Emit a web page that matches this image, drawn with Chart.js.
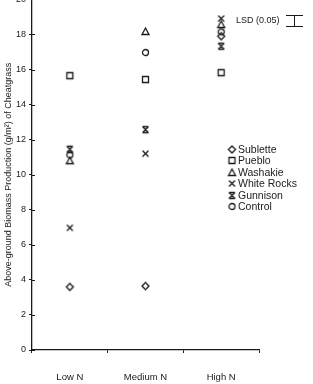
<!DOCTYPE html>
<html>
<head>
<meta charset="utf-8">
<script src="https://cdn.jsdelivr.net/npm/chart.js@4/dist/chart.umd.min.js"></script>
<style>
  html, body { margin: 0; padding: 0; background: #fff; overflow: hidden; }
  #wrap { position: absolute; left: 0; top: -9px; width: 313px; height: 393px; }
</style>
</head>
<body>
<div id="wrap"><canvas id="c" width="313" height="393"></canvas></div>
<script>
// ---- data ----
const categories = ['Low N', 'Medium N', 'High N'];
const sublette   = [3.6, 3.65, 17.9];
const pueblo     = [15.65, 15.43, 15.82];
const washakie   = [10.8, 18.17, 18.57];
const whiteRocks = [6.97, 11.2, 18.91];
const gunnison   = [11.45, 12.57, 17.33];
const control    = [11.13, 16.97, 18.15];
const yTicks = [0, 2, 4, 6, 8, 10, 12, 14, 16, 18, 20];
const lsdLabel = 'LSD (0.05)';
const lsdValue = 0.6;
const lsdCenter = 18.8;
const yTitle = 'Above-ground Biomass Production (g/m\u00B2) of Cheatgrass';

const INK = '#1a1a1a';
const FAMILY = '"Liberation Sans", Arial, sans-serif';

function makeMarker(kind) {
  const c = document.createElement('canvas');
  c.width = 11; c.height = 11;
  const g = c.getContext('2d');
  g.strokeStyle = INK; g.lineWidth = 1.3; g.lineJoin = 'miter';
  g.beginPath();
  if (kind === 'diamond') {
    g.moveTo(5.5, 2); g.lineTo(9, 5.5); g.lineTo(5.5, 9); g.lineTo(2, 5.5); g.closePath();
  } else if (kind === 'square') {
    g.rect(2.5, 2.5, 6, 6);
  } else if (kind === 'triangle') {
    g.moveTo(5.5, 2); g.lineTo(9, 8.5); g.lineTo(2, 8.5); g.closePath();
  } else if (kind === 'x') {
    g.moveTo(2.5, 2.5); g.lineTo(8.5, 8.5); g.moveTo(8.5, 2.5); g.lineTo(2.5, 8.5);
  } else if (kind === 'gunnison') {
    g.moveTo(2.5, 2.5); g.lineTo(8.5, 8.5); g.moveTo(8.5, 2.5); g.lineTo(2.5, 8.5);
    g.moveTo(2.5, 2.5); g.lineTo(8.5, 2.5); g.moveTo(2.5, 8.5); g.lineTo(8.5, 8.5);
  } else if (kind === 'circle') {
    g.arc(5.5, 5.5, 3, 0, Math.PI * 2);
  }
  g.stroke();
  return c;
}

const series = [
  { label: 'Sublette',    data: sublette,   marker: 'diamond' },
  { label: 'Pueblo',      data: pueblo,     marker: 'square' },
  { label: 'Washakie',    data: washakie,   marker: 'triangle' },
  { label: 'White Rocks', data: whiteRocks, marker: 'x' },
  { label: 'Gunnison',    data: gunnison,   marker: 'gunnison' },
  { label: 'Control',     data: control,    marker: 'circle' }
];

const datasets = series.map(s => ({
  label: s.label,
  data: s.data,
  showLine: false,
  pointStyle: makeMarker(s.marker),
  pointRadius: 5,
  borderColor: INK,
  backgroundColor: INK
}));

const extras = {
  id: 'extras',
  afterDraw(chart) {
    const ctx = chart.ctx;
    const ca = chart.chartArea;
    const y = chart.scales.y;
    ctx.save();
    // inside half of y ticks (ticks cross the axis)
    ctx.strokeStyle = INK; ctx.lineWidth = 1;
    y.ticks.forEach(t => {
      const py = Math.round(y.getPixelForValue(t.value)) + 0.5;
      ctx.beginPath(); ctx.moveTo(ca.left, py); ctx.lineTo(ca.left + 3, py); ctx.stroke();
    });
    // LSD bar
    ctx.font = '9px ' + FAMILY; ctx.fillStyle = INK; ctx.textBaseline = 'middle'; ctx.textAlign = 'left';
    const yc = y.getPixelForValue(lsdCenter);
    ctx.fillText(lsdLabel, ca.right - 23, yc);
    const y1 = Math.round(y.getPixelForValue(lsdCenter + lsdValue / 2)) + 0.5;
    const y2 = Math.round(y.getPixelForValue(lsdCenter - lsdValue / 2)) + 0.5;
    const bx = ca.right + 35.5;
    ctx.beginPath();
    ctx.moveTo(bx, y1); ctx.lineTo(bx, y2);
    ctx.moveTo(bx - 8.5, y1); ctx.lineTo(bx + 8.5, y1);
    ctx.moveTo(bx - 8.5, y2); ctx.lineTo(bx + 8.5, y2);
    ctx.stroke();
    // legend
    ctx.font = '10.5px ' + FAMILY;
    let ly = ca.top + 150;
    chart.data.datasets.forEach(ds => {
      const img = ds.pointStyle;
      ctx.drawImage(img, ca.right - 32.5, Math.round(ly - 5.5));
      ctx.fillText(ds.label, ca.right - 21, ly + 0.5);
      ly += 11.5;
    });
    ctx.restore();
  }
};

new Chart(document.getElementById('c'), {
  type: 'line',
  data: { labels: categories, datasets },
  plugins: [extras],
  options: {
    responsive: false,
    animation: false,
    layout: { padding: { left: 0, right: 54, top: 0, bottom: 0 } },
    plugins: { legend: { display: false }, tooltip: { enabled: false } },
    scales: {
      x: {
        type: 'category',
        offset: true,
        border: { display: true, color: INK, width: 1.3 },
        grid: { display: true, offset: true, drawOnChartArea: false, tickLength: 3, color: INK },
        ticks: { color: INK, padding: 19, font: { family: FAMILY, size: 9.5 } },
        afterFit(s) { s.height = 34; }
      },
      y: {
        min: 0, max: 20,
        afterBuildTicks(s) { s.ticks = yTicks.map(v => ({ value: v })); },
        border: { display: true, color: INK, width: 1.3 },
        grid: { display: true, drawOnChartArea: false, tickLength: 3, color: INK },
        ticks: { color: INK, padding: 3, font: { family: FAMILY, size: 9 } },
        title: {
          display: true, text: yTitle, color: INK,
          font: { family: FAMILY, size: 9 },
          padding: { top: 3, bottom: 0 }
        },
        afterFit(s) { s.width = 32; }
      }
    }
  }
});
</script>
</body>
</html>
